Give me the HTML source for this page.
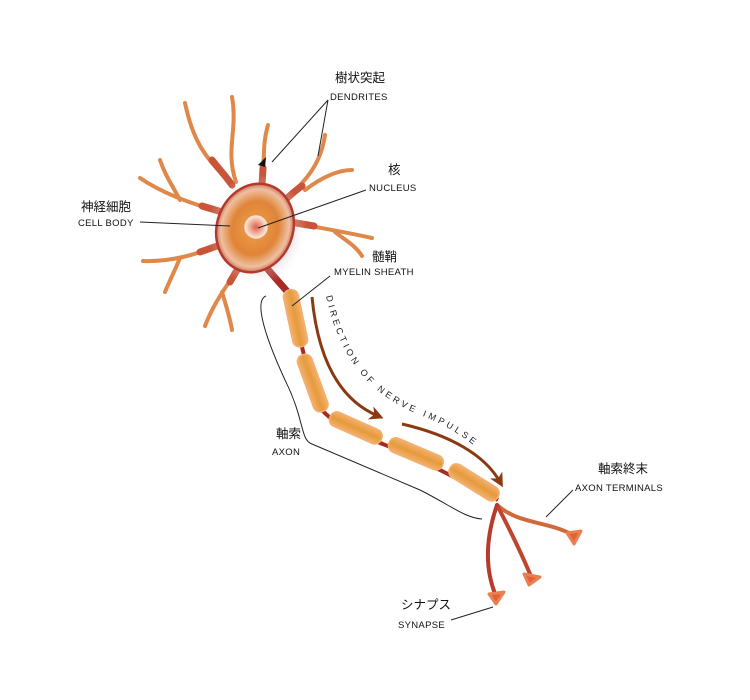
<!DOCTYPE html>
<html><head><meta charset="utf-8"><style>
body{margin:0;background:#fff;}
svg{display:block;}
.jp{font-family:"Liberation Sans","Noto Sans CJK JP",sans-serif;font-size:12.5px;fill:#111;}
.en{font-family:"Liberation Sans",sans-serif;font-size:9.5px;fill:#111;letter-spacing:0.3px;}
</style></head><body>
<svg width="750" height="700" viewBox="0 0 750 700" xmlns="http://www.w3.org/2000/svg">
<defs>
<radialGradient id="body" cx="0.5" cy="0.5" r="0.55">
<stop offset="0" stop-color="#eea04a"/><stop offset="0.55" stop-color="#e08438"/><stop offset="0.8" stop-color="#eec0a0"/><stop offset="1" stop-color="#b8322a"/>
</radialGradient>
<radialGradient id="nuc" cx="0.5" cy="0.5" r="0.5">
<stop offset="0" stop-color="#d86050"/><stop offset="0.7" stop-color="#f5c0a8"/><stop offset="1" stop-color="#fde8dc"/>
</radialGradient>
<linearGradient id="myel" x1="0" y1="0" x2="1" y2="0">
<stop offset="0" stop-color="#f3b070"/><stop offset="0.5" stop-color="#e69a3a"/><stop offset="1" stop-color="#f3b070"/>
</linearGradient>
<radialGradient id="shadow" cx="0.5" cy="0.5" r="0.5">
<stop offset="0.6" stop-color="#c0a0b0" stop-opacity="0.5"/><stop offset="1" stop-color="#fff" stop-opacity="0"/>
</radialGradient>
<marker id="ah" markerWidth="14" markerHeight="14" refX="8" refY="7" orient="auto" markerUnits="userSpaceOnUse">
<path d="M0,0 L14,7 L0,14 L4,7 Z" fill="#8a3a12"/></marker>
<path id="tp" d="M326,296 C340,360 370,395 420,415 C460,430 490,455 505,480"/>
</defs>

<!-- dendrites -->
<g fill="none" stroke-linecap="round">
<g stroke="#e0874a" stroke-width="4">
<path d="M232,185 C210,160 195,150 185,103"/>
<path d="M236,182 C225,150 238,130 232,97"/>
<path d="M262,185 C265,160 262,145 268,125"/>
<path d="M280,205 C300,185 320,170 325,135"/>
<path d="M305,190 C325,175 340,170 352,170"/>
<path d="M290,222 C320,228 345,232 372,238"/>
<path d="M335,232 C345,240 355,245 362,256"/>
<path d="M222,212 C195,205 165,195 140,178"/>
<path d="M180,200 C172,185 165,175 160,160"/>
<path d="M220,245 C195,255 170,262 143,261"/>
<path d="M180,258 C175,270 170,280 165,292"/>
<path d="M240,265 C228,285 215,300 205,326"/>
<path d="M222,292 C226,305 230,318 232,330"/>
</g>
<g stroke="#c8553a" stroke-width="7">
<path d="M232,185 C225,175 218,168 212,160"/>
<path d="M262,185 L263,168"/>
<path d="M280,205 C290,195 296,190 302,186"/>
<path d="M290,222 L314,226"/>
<path d="M222,212 L202,206"/>
<path d="M220,245 L200,252"/>
<path d="M240,265 L230,282"/>
</g>
<path d="M262,262 C272,275 282,285 291,296" stroke="#a82a25" stroke-width="7"/>
</g>
<ellipse cx="257" cy="230" rx="50" ry="56" fill="url(#shadow)"/>
<ellipse cx="255" cy="228" rx="38" ry="45" transform="rotate(20 255 228)" fill="url(#body)" stroke="#b33a2a" stroke-width="2.5"/>
<circle cx="256" cy="227" r="11" fill="url(#nuc)" stroke="#fbe0d0" stroke-width="1.5"/>

<!-- axon core -->
<path d="M291,296 C300,340 305,360 315,400 C330,430 380,440 420,460 C450,475 480,490 498,500" fill="none" stroke="#a82a25" stroke-width="4"/>
<!-- terminals -->
<g fill="none" stroke-linecap="round">
<path d="M497,505 C520,525 545,520 573,535" stroke="#d06a3a" stroke-width="4"/>
<path d="M497,505 C510,530 520,550 530,574" stroke="#c04530" stroke-width="4"/>
<path d="M497,505 C485,540 485,570 496,596" stroke="#b83a2a" stroke-width="4"/>
</g>
<g fill="#e0603a" stroke="#e88050" stroke-width="3" stroke-linejoin="round">
<path d="M567,533 L581,531 L574,544 Z"/>
<path d="M524,574 L540,577 L529,585 Z"/>
<path d="M489,594 L504,592 L496,604 Z"/>
</g>

<!-- myelin -->
<g fill="url(#myel)" stroke="#f3b070" stroke-width="1.5">
<rect x="-7" y="0" width="15" height="58" rx="7" transform="translate(289,290) rotate(-12)"/>
<rect x="-7" y="0" width="15" height="60" rx="7" transform="translate(302,355) rotate(-20)"/>
<rect x="-7" y="0" width="15" height="56" rx="7" transform="translate(330,417) rotate(-66)"/>
<rect x="-7" y="0" width="15" height="58" rx="7" transform="translate(389,443) rotate(-67)"/>
<rect x="-7" y="0" width="15" height="56" rx="7" transform="translate(450,468) rotate(-58)"/>
</g>

<!-- arrows -->
<g fill="none" stroke="#8a3a12" stroke-width="3">
<path d="M312,297 C318,360 340,400 378,416" marker-end="url(#ah)"/>
<path d="M402,424 C450,435 485,455 500,482" marker-end="url(#ah)"/>
</g>
<text font-family="Liberation Sans,sans-serif" font-size="9" letter-spacing="3.2" fill="#222"><textPath href="#tp">DIRECTION OF NERVE IMPULSE</textPath></text>

<!-- leader lines -->
<g fill="none" stroke="#222" stroke-width="1">
<path d="M328,100 L272,162"/>
<path d="M328,100 L318,156"/>
<path d="M366,190 L258,228"/>
<path d="M140,222 L230,226"/>
<path d="M330,276 L292,306"/>
<path d="M573,490 L546,517"/>
<path d="M451,620 L493,607"/>
<path d="M266,296 C255,300 262,330 285,380 C305,420 300,440 312,444 L420,490 C450,505 465,518 482,519"/>
</g>
<path d="M258,165 L266,157 L265,167 Z" fill="#111"/>

<!-- labels -->
<text class="jp" x="335" y="82">樹状突起</text>
<text class="en" x="330" y="100">DENDRITES</text>
<text class="jp" x="388" y="174">核</text>
<text class="en" x="369" y="191">NUCLEUS</text>
<text class="jp" x="81" y="211">神経細胞</text>
<text class="en" x="78" y="226">CELL BODY</text>
<text class="jp" x="372" y="261">髄鞘</text>
<text class="en" x="334" y="275">MYELIN SHEATH</text>
<text class="jp" x="276" y="438">軸索</text>
<text class="en" x="272" y="455">AXON</text>
<text class="jp" x="598" y="473">軸索終末</text>
<text class="en" x="575" y="491">AXON TERMINALS</text>
<text class="jp" x="401" y="609">シナプス</text>
<text class="en" x="398" y="628">SYNAPSE</text>
</svg>
</body></html>
